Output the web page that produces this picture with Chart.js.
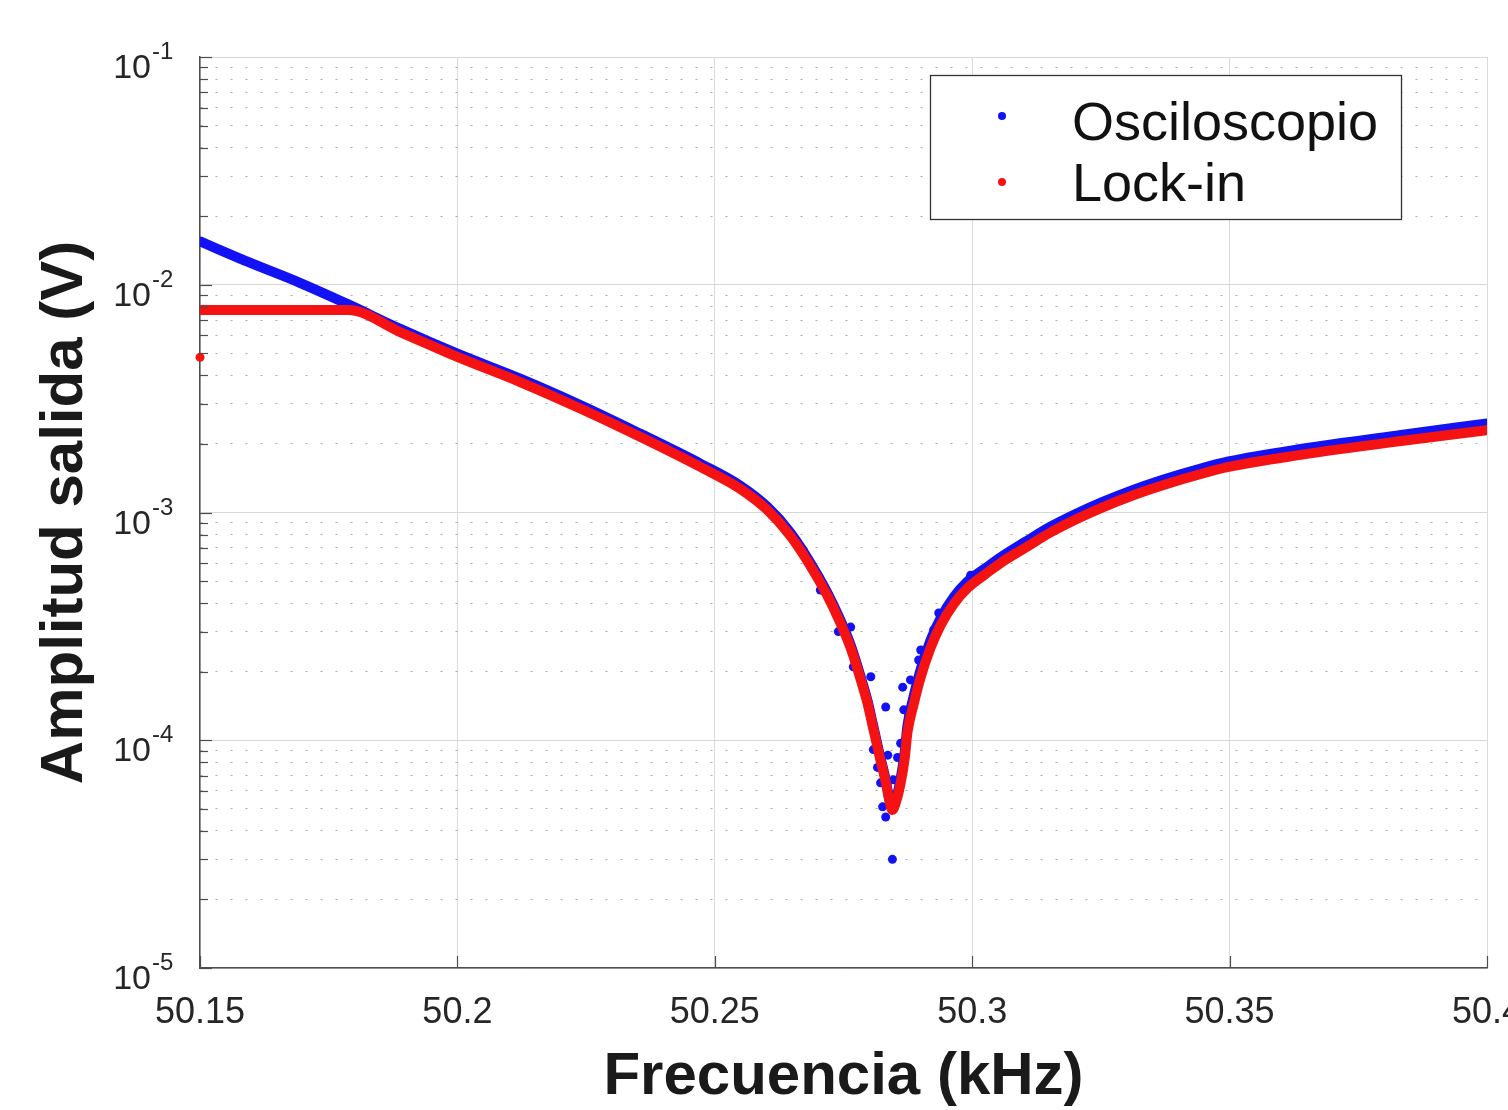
<!DOCTYPE html>
<html>
<head>
<meta charset="utf-8">
<title>Amplitud salida vs frecuencia</title>
<script src="https://cdn.jsdelivr.net/npm/chart.js@4.4.1/dist/chart.umd.min.js"></script>
<style>
    html, body { margin: 0; padding: 0; background: #ffffff; }
    #resonanceCanvas { display: block; }
</style>
</head>
<body>
<canvas id="resonanceCanvas" width="1508" height="1110"></canvas>
<script>
// frequency (kHz) / amplitude (V)

const freqLockIn = [50.15, 50.16, 50.17, 50.1788, 50.1889, 50.2, 50.2122, 50.2245, 50.2355, 50.2472,
    50.255, 50.2602, 50.2647, 50.2686, 50.2717, 50.2744, 50.2766, 50.2783, 50.2797, 50.2808,
    50.282, 50.2832, 50.2839, 50.2845, 50.2853, 50.2861, 50.2869, 50.2874, 50.2886, 50.29,
    50.2919, 50.2939, 50.2964, 50.2991, 50.3026, 50.3055, 50.3104, 50.3152, 50.3201, 50.325,
    50.3314, 50.3378, 50.3444, 50.3498, 50.3638, 50.3833, 50.4];
const ampLockIn = [7.74e-3, 7.74e-3, 7.74e-3, 7.74e-3, 6.2e-3, 4.82e-3, 3.74e-3, 2.82e-3, 2.15e-3, 1.585e-3,
    1.268e-3, 1.026e-3, 7.88e-4, 5.82e-4, 4.39e-4, 3.27e-4, 2.465e-4, 1.857e-4, 1.443e-4, 1.12e-4,
    8.52e-5, 6.56e-5, 5.46e-5, 4.94e-5, 5.46e-5, 6.49e-5, 8.36e-5, 1.076e-4, 1.43e-4, 1.895e-4,
    2.54e-4, 3.21e-4, 3.96e-4, 4.66e-4, 5.37e-4, 6.0e-4, 7.02e-4, 8.17e-4, 9.32e-4, 1.046e-3,
    1.193e-3, 1.334e-3, 1.476e-3, 1.585e-3, 1.79e-3, 2.06e-3, 2.30e-3];

const freqLockInStray = [50.15];
const ampLockInStray = [4.8e-3];

const freqOsc = [50.15, 50.1597, 50.1694, 50.1788, 50.1889, 50.2, 50.2122, 50.2245, 50.2355, 50.2472,
    50.255, 50.2602, 50.2647, 50.2686, 50.2717, 50.2744, 50.2766, 50.2783, 50.2797, 50.2808,
    50.282, 50.2832, 50.2839, 50.2845, 50.2853, 50.2861, 50.2869, 50.2874, 50.2886, 50.29,
    50.2919, 50.2939, 50.2964, 50.2991, 50.3026, 50.3055, 50.3104, 50.3152, 50.3201, 50.325,
    50.3314, 50.3378, 50.3444, 50.3498, 50.3638, 50.3833, 50.4];
const ampOsc = [1.55e-2, 1.25e-2, 1.02e-2, 8.2e-3, 6.4e-3, 4.98e-3, 3.87e-3, 2.92e-3, 2.22e-3, 1.64e-3,
    1.31e-3, 1.06e-3, 8.15e-4, 6.0e-4, 4.52e-4, 3.37e-4, 2.54e-4, 1.91e-4, 1.48e-4, 1.15e-4,
    8.7e-5, 6.7e-5, 5.5e-5, 5.0e-5, 5.6e-5, 6.8e-5, 8.9e-5, 1.15e-4, 1.55e-4, 2.05e-4,
    2.75e-4, 3.45e-4, 4.25e-4, 4.98e-4, 5.7e-4, 6.35e-4, 7.45e-4, 8.66e-4, 9.85e-4, 1.105e-3,
    1.26e-3, 1.41e-3, 1.56e-3, 1.675e-3, 1.9e-3, 2.19e-3, 2.46e-3];

// scattered oscilloscope readings around the dip
const freqOscScatter = [50.2832, 50.2865, 50.2845, 50.2832, 50.2826, 50.2808, 50.2836, 50.2855, 50.2861, 50.2803,
    50.2769, 50.274, 50.2764, 50.2672, 50.2705, 50.29, 50.2925, 50.2935, 50.288, 50.2867,
    50.2847, 50.2822, 50.2816, 50.2962, 50.2997, 50.2896, 50.2948];
const ampOscScatter = [1.40e-4, 1.71e-4, 3.0e-5, 4.6e-5, 5.1e-5, 9.1e-5, 8.6e-5, 8.4e-5, 9.7e-5, 1.9e-4,
    2.1e-4, 3.0e-4, 3.14e-4, 6.84e-4, 4.57e-4, 2.49e-4, 3.05e-4, 3.62e-4, 1.84e-4, 1.36e-4,
    6.7e-5, 6.5e-5, 7.6e-5, 4.13e-4, 5.3e-4, 2.25e-4, 3.73e-4];

const xTickValues = [50.15, 50.2, 50.25, 50.3, 50.35, 50.4];
const yDecades = [-5, -4, -3, -2, -1];

const seriesNames = ["Osciloscopio", "Lock-in"];

const BLUE = "rgb(18, 18, 245)";
const RED = "rgb(245, 18, 18)";
const TEXT = "#262626";
const FONT = "'Liberation Sans', Arial, Helvetica, sans-serif";

const toPoints = (xs, ys) => xs.map((x, i) => ({ x: x, y: ys[i] }));

const ctx = document.getElementById("resonanceCanvas");

const decorations = {
    id: "decorations",
    afterDraw(chart) {
        const c = chart.ctx;
        const area = chart.chartArea;
        const x = chart.scales.x;
        const y = chart.scales.y;

        c.save();

        // inward tick marks
        c.strokeStyle = "#4d4d4d";
        c.lineWidth = 1.2;
        y.ticks.forEach((t) => {
            const py = Math.round(y.getPixelForValue(t.value)) + 0.5;
            c.beginPath();
            c.moveTo(area.left, py);
            c.lineTo(area.left + (t.major ? 12 : 8), py);
            c.stroke();
        });
        x.ticks.forEach((t) => {
            const px = Math.round(x.getPixelForValue(t.value)) + 0.5;
            c.beginPath();
            c.moveTo(px, area.bottom);
            c.lineTo(px, area.bottom - 12);
            c.stroke();
        });

        // y tick labels as 10^n
        c.fillStyle = TEXT;
        yDecades.forEach((e) => {
            const py = y.getPixelForValue(Math.pow(10, e));
            c.font = "34px " + FONT;
            c.textAlign = "right";
            c.textBaseline = "alphabetic";
            c.fillText("10", 151, py + 21);
            c.font = "24px " + FONT;
            c.textAlign = "left";
            c.fillText("-" + Math.abs(e), 152, py + 2);
        });

        // legend box
        const box = { left: 930, top: 75, width: 471, height: 144 };
        c.fillStyle = "#ffffff";
        c.fillRect(box.left, box.top, box.width, box.height);
        c.strokeStyle = "#333333";
        c.lineWidth = 1.3;
        c.strokeRect(box.left + 0.5, box.top + 0.5, box.width, box.height);

        const legendColors = [BLUE, RED];
        const legendBaselines = [140, 201];
        const markerY = [116, 182];
        seriesNames.forEach((name, i) => {
            c.fillStyle = legendColors[i];
            c.beginPath();
            c.arc(1002, markerY[i], 4, 0, Math.PI * 2);
            c.fill();
            c.fillStyle = "#111111";
            c.font = "54px " + FONT;
            c.textAlign = "left";
            c.textBaseline = "alphabetic";
            c.fillText(name, 1072, legendBaselines[i]);
        });

        c.restore();
    }
};

const chart = new Chart(ctx, {
    type: "scatter",
    data: {
        datasets: [
            {
                label: seriesNames[1],
                data: toPoints(freqLockIn, ampLockIn),
                showLine: true,
                borderColor: RED,
                backgroundColor: RED,
                borderWidth: 10,
                pointRadius: 0,
                cubicInterpolationMode: "monotone",
                borderCapStyle: "round",
                borderJoinStyle: "round",
                order: 0
            },
            {
                label: seriesNames[1] + " (stray)",
                data: toPoints(freqLockInStray, ampLockInStray),
                showLine: false,
                backgroundColor: RED,
                borderWidth: 0,
                pointRadius: 4.5,
                clip: false,
                order: 1
            },
            {
                label: seriesNames[0],
                data: toPoints(freqOsc, ampOsc),
                showLine: true,
                borderColor: BLUE,
                backgroundColor: BLUE,
                borderWidth: 10,
                pointRadius: 0,
                cubicInterpolationMode: "monotone",
                borderCapStyle: "round",
                borderJoinStyle: "round",
                order: 2
            },
            {
                label: seriesNames[0] + " (scatter)",
                data: toPoints(freqOscScatter, ampOscScatter),
                showLine: false,
                backgroundColor: BLUE,
                borderWidth: 0,
                pointRadius: 4.5,
                order: 3
            }
        ]
    },
    options: {
        responsive: false,
        animation: false,
        devicePixelRatio: 1,
        layout: {
            padding: { top: 57, right: 21, left: 0, bottom: 0 }
        },
        plugins: {
            legend: { display: false },
            tooltip: { enabled: false }
        },
        scales: {
            x: {
                type: "linear",
                min: 50.15,
                max: 50.4,
                afterBuildTicks: (scale) => {
                    scale.ticks = xTickValues.map((v) => ({ value: v }));
                },
                afterFit: (scale) => {
                    scale.height = 142;
                    scale.paddingLeft = 0;
                    scale.paddingRight = 0;
                },
                ticks: {
                    color: TEXT,
                    padding: 23,
                    maxRotation: 0,
                    autoSkip: false,
                    font: { family: FONT, size: 36, lineHeight: 1.2 },
                    callback: (value) => String(Number(value.toFixed(2)))
                },
                grid: {
                    color: "#dadada",
                    lineWidth: 1,
                    drawTicks: false
                },
                border: {
                    color: "#4d4d4d",
                    width: 1.5
                },
                title: {
                    display: true,
                    text: "Frecuencia (kHz)",
                    color: "#1a1a1a",
                    padding: { top: 0, bottom: 3 },
                    font: { family: FONT, size: 60, weight: "bold", lineHeight: 1 }
                }
            },
            y: {
                type: "logarithmic",
                min: 1e-5,
                max: 1e-1,
                afterBuildTicks: (scale) => {
                    const ticks = [];
                    yDecades.forEach((e) => {
                        for (let m = 1; m <= 9; m++) {
                            if (e === -1 && m > 1) break;
                            ticks.push({ value: m * Math.pow(10, e), major: m === 1 });
                        }
                    });
                    scale.ticks = ticks;
                },
                afterFit: (scale) => {
                    scale.width = 200;
                    scale.paddingTop = 0;
                    scale.paddingBottom = 0;
                },
                ticks: {
                    display: false
                },
                grid: {
                    color: (c) => (c.tick && c.tick.major ? "#d6d6d6" : "#ababab"),
                    lineWidth: 1,
                    drawTicks: false
                },
                border: {
                    color: "#4d4d4d",
                    width: 1.5,
                    dash: (c) => (c.tick && !c.tick.major ? [2, 13] : [])
                },
                title: {
                    display: true,
                    text: "Amplitud salida (V)",
                    color: "#1a1a1a",
                    padding: { top: 35, bottom: 0 },
                    font: { family: FONT, size: 60, weight: "bold", lineHeight: 1 }
                }
            }
        }
    },
    plugins: [decorations]
});
</script>
</body>
</html>
